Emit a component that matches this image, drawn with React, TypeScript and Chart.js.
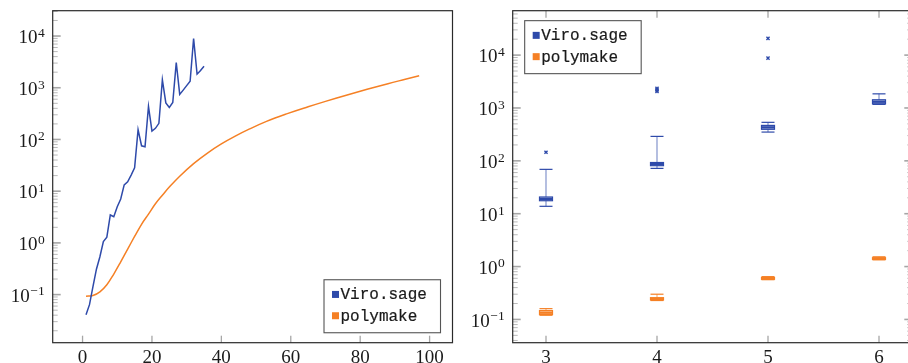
import React, { useEffect, useRef } from 'react';
import { Chart, registerables } from 'chart.js';
Chart.register(...registerables);

const BLUE = 'rgb(46,74,170)';
const BLUE_LIGHT = 'rgba(46,74,170,0.55)';
const BLUE_FILL = 'rgba(46,74,170,0.35)';
const ORANGE = 'rgb(245,128,37)';
const ORANGE_LIGHT = 'rgba(245,128,37,0.55)';
const ORANGE_FILL = 'rgba(245,128,37,0.35)';

// ---- Left panel data ----
const viroX = [1, 2, 3, 4, 5, 6, 7, 8, 9, 10, 11, 12, 13, 14, 15, 16, 17, 18, 19, 20, 21, 22, 23, 24, 25, 26, 27, 28, 29, 30, 31, 32, 33, 34, 35];
const viroTimes = [0.041, 0.064, 0.143, 0.31, 0.54, 1.06, 1.29, 3.47, 3.22, 5.0, 7.07, 13.2, 15.2, 20.5, 28.4, 155, 75.5, 72.3, 435, 145, 164, 205, 1420, 511, 417, 520, 3077, 742, 900, 1100, 1340, 8950, 1832, 2150, 2610];
const polyX = [1, 3, 5, 7, 9, 11, 13, 15, 17, 19, 21, 23, 25, 28, 32, 36, 40, 44, 48, 53, 59, 65, 70, 76, 82, 88, 93, 97];
const polyTimes = [0.093, 0.096, 0.113, 0.155, 0.25, 0.43, 0.76, 1.33, 2.29, 3.6, 5.7, 8.35, 12, 19.5, 34.2, 54.7, 82, 116, 158, 224, 316, 429, 546, 719, 935, 1200, 1459, 1706];

// ---- Right panel data (box plots) ----
const boxCats = [3, 4, 5, 6];
const viroLowW = [13.8, 72, 350, 1170];
const viroQ1 = [17.6, 81, 395, 1200];
const viroMed = [19, 87, 430, 1310];
const viroQ3 = [20.7, 93, 468, 1430];
const viroHighW = [69, 290, 535, 1850];
const viroOutX = [3, 4, 4, 4, 5, 5];
const viroOutY = [145, 2050, 2200, 2350, 8770, 20700];
const polyLowW = [0.12, 0.228, 0.565, 1.34];
const polyQ1 = [0.124, 0.234, 0.575, 1.37];
const polyMed = [0.134, 0.245, 0.595, 1.42];
const polyQ3 = [0.147, 0.258, 0.62, 1.47];
const polyHighW = [0.16, 0.3, 0.645, 1.53];

const SERIF = '"Liberation Serif", "DejaVu Serif", serif';

function line(ctx: CanvasRenderingContext2D, x1: number, y1: number, x2: number, y2: number) {
  ctx.beginPath();
  ctx.moveTo(x1, y1);
  ctx.lineTo(x2, y2);
  ctx.stroke();
}

const pgfAxes = {
  id: 'pgfAxes',
  afterDatasetsDraw(chart: any, _args: any, opts: any) {
    const { ctx, chartArea: a, scales } = chart;
    const xs = scales.x, ys = scales.y;
    ctx.save();
    const lo = Math.floor(Math.log10(ys.min));
    const hi = Math.ceil(Math.log10(ys.max));
    for (let e = lo; e <= hi; e++) {
      for (let m = 1; m <= 9; m++) {
        const v = m * Math.pow(10, e);
        if (v < ys.min || v > ys.max) continue;
        const py = ys.getPixelForValue(v);
        const major = m === 1;
        const len = major ? 8 : 5;
        ctx.strokeStyle = major ? '#a6a6a6' : '#a8a8a8';
        ctx.lineWidth = major ? 1.6 : 0.8;
        line(ctx, a.left, py, a.left + len, py);
        if (opts.right) line(ctx, a.right, py, a.right - len, py);
        if (major) {
          // label 10^e with a real superscript
          const exp = String(e).replace('-', '\u2212');
          const xr = a.left - 8;
          const base = py + 7.3;
          ctx.fillStyle = '#1a1a1a';
          ctx.textAlign = 'right';
          ctx.textBaseline = 'alphabetic';
          ctx.font = '13.5px ' + SERIF;
          const ew = ctx.measureText(exp).width;
          ctx.fillText(exp, xr, base - 6.5);
          ctx.font = '19px ' + SERIF;
          ctx.fillText('10', xr - ew - 0.5, base);
        }
      }
    }
    ctx.strokeStyle = '#a6a6a6';
    ctx.lineWidth = 1.3;
    ctx.font = '19px ' + SERIF;
    ctx.textAlign = 'center';
    ctx.textBaseline = 'alphabetic';
    for (const t of xs.ticks) {
      const px = xs.getPixelForValue(t.value);
      line(ctx, px, a.bottom, px, a.bottom - 7);
      if (opts.top) line(ctx, px, a.top, px, a.top + 7);
      ctx.fillStyle = '#1a1a1a';
      ctx.fillText(String(t.value), px, a.bottom + 20);
    }
    ctx.strokeStyle = '#2a2a2a';
    ctx.lineWidth = 1.2;
    ctx.strokeRect(a.left, a.top, a.right - a.left, a.bottom - a.top);
    ctx.restore();
  },
};

const boxPlot = {
  id: 'boxPlot',
  afterDatasetsDraw(chart: any, _args: any, opts: any) {
    if (!opts || !opts.series) return;
    const { ctx } = chart;
    const xs = chart.scales.x, ys = chart.scales.y;
    ctx.save();
    const half = 6.5;
    for (const s of opts.series) {
      for (let i = 0; i < s.cats.length; i++) {
        const cx = xs.getPixelForValue(s.cats[i]);
        const yLo = ys.getPixelForValue(s.lowW[i]);
        const yQ1 = ys.getPixelForValue(s.q1[i]);
        const yMed = ys.getPixelForValue(s.med[i]);
        const yQ3 = ys.getPixelForValue(s.q3[i]);
        const yHi = ys.getPixelForValue(s.highW[i]);
        ctx.strokeStyle = s.light;
        ctx.lineWidth = 1.3;
        line(ctx, cx, yHi, cx, yQ3);
        line(ctx, cx, yQ1, cx, yLo);
        ctx.strokeStyle = s.color;
        ctx.lineWidth = 1.2;
        line(ctx, cx - half, yHi, cx + half, yHi);
        line(ctx, cx - half, yLo, cx + half, yLo);
        ctx.fillStyle = s.fill;
        ctx.fillRect(cx - half, yQ3, 2 * half, yQ1 - yQ3);
        ctx.strokeRect(cx - half, yQ3, 2 * half, yQ1 - yQ3);
        ctx.lineWidth = 2.2;
        line(ctx, cx - half, yMed, cx + half, yMed);
      }
    }
    ctx.restore();
  },
};

const pgfLegend = {
  id: 'pgfLegend',
  afterDraw(chart: any, _args: any, opts: any) {
    if (!opts || !opts.corner) return;
    const { ctx, chartArea: a } = chart;
    const w = 116.5, h = 53;
    const W = a.right - a.left, H = a.bottom - a.top;
    let x0: number, y0: number;
    if (opts.corner === 'se') {
      x0 = a.left + 0.97 * W - w;
      y0 = a.bottom - 0.03 * H - h;
    } else {
      x0 = a.left + 0.03 * W;
      y0 = a.top + 0.03 * H;
    }
    ctx.save();
    ctx.fillStyle = '#ffffff';
    ctx.fillRect(x0, y0, w, h);
    ctx.strokeStyle = '#555555';
    ctx.lineWidth = 1.1;
    ctx.strokeRect(x0, y0, w, h);
    const items = chart.data.datasets.filter((d: any) => d.label);
    ctx.font = '16px "Liberation Mono", monospace';
    ctx.textBaseline = 'alphabetic';
    ctx.textAlign = 'left';
    items.forEach((d: any, i: number) => {
      const by = y0 + 19.7 + i * 21.3;
      ctx.fillStyle = d.legendColor;
      ctx.fillRect(x0 + 8, by - 8.5, 7, 7);
      ctx.fillStyle = '#1a1a1a';
      ctx.strokeStyle = '#1a1a1a';
      ctx.lineWidth = 0.2;
      ctx.fillText(d.label, x0 + 16.5, by);
      ctx.strokeText(d.label, x0 + 16.5, by);
    });
    ctx.restore();
  },
};

function baseScales(xMin: number, xMax: number, step: number, yMin: number, yMax: number) {
  return {
    x: {
      type: 'linear' as const,
      min: xMin,
      max: xMax,
      grid: { display: false },
      border: { display: false },
      ticks: { display: false, stepSize: step, includeBounds: false, autoSkip: false },
      afterFit: (s: any) => { s.height = 20.3; },
    },
    y: {
      type: 'logarithmic' as const,
      min: yMin,
      max: yMax,
      grid: { display: false },
      border: { display: false },
      ticks: { display: false, autoSkip: false },
      afterFit: (s: any) => { s.width = 52.7; },
    },
  };
}

function LeftChart() {
  const ref = useRef<HTMLCanvasElement>(null);
  useEffect(() => {
    const chart = new Chart(ref.current as HTMLCanvasElement, {
      type: 'line',
      data: {
        datasets: [
          {
            label: 'Viro.sage',
            legendColor: BLUE,
            data: viroX.map((x, i) => ({ x, y: viroTimes[i] })),
            borderColor: BLUE,
            borderWidth: 1.5,
            pointRadius: 0,
            tension: 0,
          } as any,
          {
            label: 'polymake',
            legendColor: ORANGE,
            data: polyX.map((x, i) => ({ x, y: polyTimes[i] })),
            borderColor: ORANGE,
            borderWidth: 1.5,
            pointRadius: 0,
            tension: 0.4,
          } as any,
        ],
      },
      options: {
        animation: false,
        responsive: false,
        devicePixelRatio: 1,
        clip: false as any,
        layout: { padding: { top: 10.7, right: 7.5, left: 0, bottom: 0 } },
        scales: baseScales(-8.6, 106.6, 20, Math.pow(10, -1.93), Math.pow(10, 4.49)) as any,
        plugins: {
          legend: { display: false },
          tooltip: { enabled: false },
          pgfAxes: { right: false, top: false },
          pgfLegend: { corner: 'se' },
        } as any,
      },
      plugins: [pgfAxes, pgfLegend],
    });
    return () => chart.destroy();
  }, []);
  return <canvas ref={ref} width={460} height={363} style={{ position: 'absolute', left: 0, top: 0 }} />;
}

function RightChart() {
  const ref = useRef<HTMLCanvasElement>(null);
  useEffect(() => {
    const chart = new Chart(ref.current as HTMLCanvasElement, {
      type: 'scatter',
      data: {
        datasets: [
          {
            label: 'Viro.sage',
            legendColor: BLUE,
            data: viroOutX.map((x, i) => ({ x, y: viroOutY[i] })),
            pointStyle: 'crossRot',
            pointRadius: 2.2,
            borderColor: BLUE,
            borderWidth: 1.4,
            backgroundColor: BLUE,
          } as any,
          {
            label: 'polymake',
            legendColor: ORANGE,
            data: [],
            pointStyle: 'crossRot',
            pointRadius: 2.2,
            borderColor: ORANGE,
            backgroundColor: ORANGE,
          } as any,
        ],
      },
      options: {
        animation: false,
        responsive: false,
        devicePixelRatio: 1,
        clip: false as any,
        layout: { padding: { top: 10.7, right: 7.7, left: 0, bottom: 0 } },
        scales: baseScales(2.7, 6.3, 1, Math.pow(10, -1.44), Math.pow(10, 4.84)) as any,
        plugins: {
          legend: { display: false },
          tooltip: { enabled: false },
          pgfAxes: { right: true, top: true },
          pgfLegend: { corner: 'nw' },
          boxPlot: {
            series: [
              { cats: boxCats, lowW: viroLowW, q1: viroQ1, med: viroMed, q3: viroQ3, highW: viroHighW, color: BLUE, light: BLUE_LIGHT, fill: BLUE_FILL },
              { cats: boxCats, lowW: polyLowW, q1: polyQ1, med: polyMed, q3: polyQ3, highW: polyHighW, color: ORANGE, light: ORANGE_LIGHT, fill: ORANGE_FILL },
            ],
          },
        } as any,
      },
      plugins: [boxPlot, pgfAxes, pgfLegend],
    });
    return () => chart.destroy();
  }, []);
  return <canvas ref={ref} width={460} height={363} style={{ position: 'absolute', left: 460, top: 0 }} />;
}

export default function App() {
  return (
    <div style={{ position: 'fixed', left: 0, top: 0, width: 908, height: 363, overflow: 'hidden', background: '#ffffff' }}>
      <LeftChart />
      <RightChart />
    </div>
  );
}
